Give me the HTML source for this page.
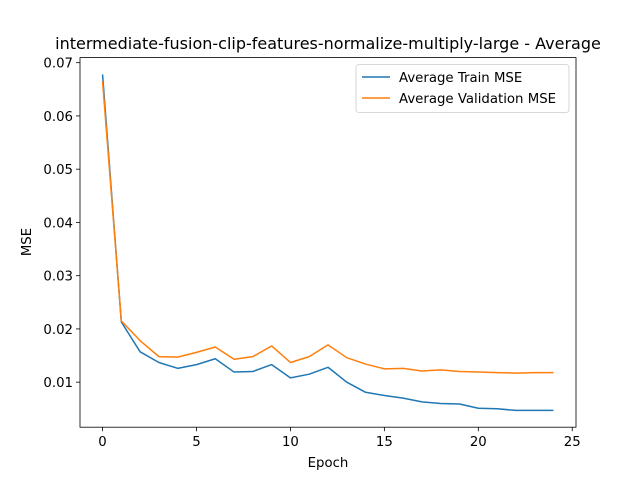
<!DOCTYPE html>
<html><head><meta charset="utf-8"><style>
body{margin:0;background:#fff;}
svg{font-family:"DejaVu Sans","Liberation Sans",sans-serif;}
</style></head><body>
<svg id="chart" width="640" height="480">
<rect width="640" height="480" fill="#fff"/>
<text x="328" y="49" font-size="16" text-anchor="middle">intermediate-fusion-clip-features-normalize-multiply-large - Average</text>
<g id="axes"></g>
<text x="328" y="467" font-size="13.3" text-anchor="middle">Epoch</text>
<text x="31" y="242" font-size="13.3" text-anchor="middle" transform="rotate(-90 31 242)">MSE</text>
</svg>
<script>
const epochs=[0,1,2,3,4,5,6,7,8,9,10,11,12,13,14,15,16,17,18,19,20,21,22,23,24];
const trainMSE=[0.0678,0.0213,0.0157,0.0137,0.0126,0.0133,0.0144,0.0119,0.0120,0.0133,0.0108,0.0115,0.0128,0.0100,0.0081,0.0075,0.0070,0.0063,0.0060,0.0059,0.0051,0.0050,0.0047,0.0047,0.0047];
const valMSE=[0.0665,0.0215,0.0178,0.0148,0.0147,0.0156,0.0166,0.0143,0.0148,0.0168,0.0137,0.0148,0.0170,0.0146,0.0134,0.0125,0.0126,0.0121,0.0123,0.0120,0.0119,0.0118,0.0117,0.0118,0.0118];
const xTicks=[0,5,10,15,20,25];
const yTicks=[0.01,0.02,0.03,0.04,0.05,0.06,0.07];
const L=80,R=576,T=57.6,B=427.2;
const xmin=-1.2,xmax=25.2;
const ymin=Math.min(...trainMSE,...valMSE)-(Math.max(...trainMSE,...valMSE)-Math.min(...trainMSE,...valMSE))*0.05;
const ymax=Math.max(...trainMSE,...valMSE)+(Math.max(...trainMSE,...valMSE)-Math.min(...trainMSE,...valMSE))*0.05;
const sx=v=>L+(v-xmin)/(xmax-xmin)*(R-L);
const sy=v=>B-(v-ymin)/(ymax-ymin)*(B-T);
const NS='http://www.w3.org/2000/svg';
const g=document.getElementById('axes');
function mk(tag,at){const e=document.createElementNS(NS,tag);for(const k in at)e.setAttribute(k,at[k]);g.appendChild(e);return e;}
xTicks.forEach(t=>{const x=sx(t);
const tk=mk('line',{x1:x,x2:x,y1:B,y2:B+4,stroke:'#000','stroke-width':0.8});


const tx=mk('text',{x:x,y:B+19,'font-size':13.3,'text-anchor':'middle'});tx.textContent=t;

});
yTicks.forEach(t=>{const y=sy(t);
const tk=mk('line',{x1:L-4,x2:L,y1:y,y2:y,stroke:'#000','stroke-width':0.8});


const tx=mk('text',{x:L-7,y:y+5,'font-size':13.3,'text-anchor':'end'});tx.textContent=t.toFixed(2);

});
function line(vals,color,name){const p=mk('polyline',{points:vals.map((v,i)=>sx(epochs[i])+','+sy(v)).join(' '),fill:'none',stroke:color,'stroke-width':1.5,'stroke-linejoin':'round'});

}
line(trainMSE,'#1f77b4','train-mse-line');
line(valMSE,'#ff7f0e','validation-mse-line');
const fr=mk('rect',{x:L,y:T,width:R-L,height:B-T,fill:'none',stroke:'#000','stroke-width':0.8});


const lb=mk('rect',{x:356,y:64.5,width:213,height:48,rx:3,fill:'#fff',stroke:'#ccc','stroke-width':0.8});


[['Average Train MSE','#1f77b4',77],['Average Validation MSE','#ff7f0e',98]].forEach(([n,c,y])=>{
const l=mk('line',{x1:362,x2:390,y1:y,y2:y,stroke:c,'stroke-width':1.5});


const t=mk('text',{x:399,y:y+5,'font-size':13.3});t.textContent=n;

});
</script>
</body></html>
